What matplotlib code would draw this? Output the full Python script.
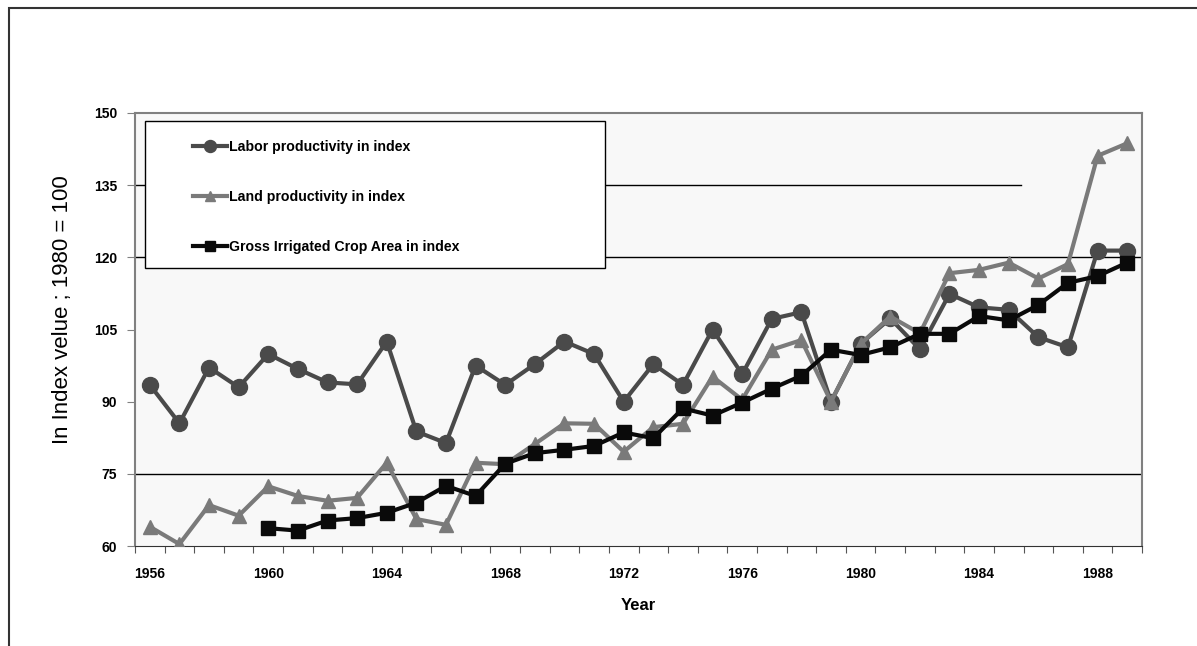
import matplotlib
matplotlib.use('Agg')
import matplotlib.pyplot as plt
from matplotlib.patches import Rectangle
import numpy as np

years = list(range(1956, 1990))

labor = [93.5, 85.5, 97.1, 93.0, 99.9, 96.8, 94.0, 93.6, 102.5, 83.8, 81.4,
         97.5, 93.5, 97.8, 102.5, 99.9, 90.0, 97.8, 93.5, 105.0, 95.7, 107.2,
         108.6, 90.0, 102.0, 107.3, 100.9, 112.4, 109.6, 109.1, 103.4, 101.3,
         121.4, 121.4]

land = [64.0, 60.4, 68.5, 66.3, 72.4, 70.4, 69.4, 70.0, 77.3, 65.6, 64.4,
        77.3, 77.0, 81.2, 85.5, 85.4, 79.6, 84.7, 85.4, 95.2, 90.4, 100.8,
        102.8, 90.0, 102.0, 107.7, 104.2, 116.7, 117.4, 118.9, 115.6, 118.6,
        141.1, 143.7]

# irrigated area series starts in 1960
gross_years = list(range(1960, 1990))
gross = [63.7, 63.2, 65.3, 65.8, 66.9, 69.0, 72.5, 70.4, 77.1, 79.3, 80.0,
         80.8, 83.6, 82.4, 88.6, 87.1, 89.8, 92.7, 95.4, 100.8, 99.7, 101.3,
         104.1, 104.1, 107.8, 106.9, 110.1, 114.7, 116.1, 118.9]

yticks = [60, 75, 90, 105, 120, 135, 150]
xlabels = list(range(1956, 1990, 4))

fig = plt.figure(figsize=(11.97, 6.46), dpi=100)
ax = fig.add_axes([135 / 1197, 1 - 546 / 646, 1007 / 1197, 433 / 646])
ax.set_facecolor('#f8f8f8')

x = np.arange(len(years))
gx = np.array([years.index(y) for y in gross_years])

# gridlines (only some show in the original)
ax.axhline(75, color='black', lw=1, zorder=1)
ax.axhline(120, color='black', lw=1, zorder=1)
ax.axhline(135, xmax=(1021 - 135) / 1007, color='black', lw=1, zorder=1)

ax.plot(x, labor, color='#4a4a4a', lw=3, marker='o', ms=11.5,
        label='Labor productivity in index', zorder=3)
ax.plot(x, land, color='#7a7a7a', lw=3, marker='^', ms=10.5,
        label='Land productivity in index', zorder=4)
ax.plot(gx, gross, color='#0a0a0a', lw=3, marker='s', ms=9.5,
        label='Gross Irrigated Crop Area in index', zorder=5)

ax.set_xlim(-0.5, len(years) - 0.5)
ax.set_ylim(60, 150)
ax.set_yticks(yticks)
ax.set_yticklabels([str(v) for v in yticks], fontsize=10, fontweight='bold',
                   family='Liberation Sans')
ax.tick_params(axis='y', direction='out', length=6, color='#808080', pad=7)

ax.set_xticks([years.index(y) for y in xlabels])
ax.set_xticklabels([str(y) for y in xlabels], fontsize=10, fontweight='bold',
                   family='Liberation Sans')
ax.set_xticks(np.arange(-0.5, len(years), 1), minor=True)
ax.tick_params(axis='x', which='major', length=0, pad=15)
ax.tick_params(axis='x', which='minor', direction='out', length=5,
               color='#555555', width=0.8)

for s in ['left', 'top', 'right']:
    ax.spines[s].set_color('#808080')
    ax.spines[s].set_linewidth(1.5)
ax.spines['bottom'].set_color('#333333')

ax.set_ylabel('In Index velue ; 1980 = 100', fontsize=16,
              family='Liberation Sans')
ax.yaxis.set_label_coords(-0.062, 0.545)
ax.set_xlabel('Year', fontsize=12, fontweight='bold',
              family='Liberation Sans', labelpad=12)

# legend box
ax.add_patch(Rectangle((10 / 1007, 117.8), 460 / 1007, 148.3 - 117.8,
                       transform=ax.get_yaxis_transform(), facecolor='white',
                       edgecolor='black', lw=1, zorder=6))
leg = ax.legend(loc='upper left', bbox_to_anchor=(58 / 1007, 1 - 27 / 433),
                frameon=False, prop={'family': 'Liberation Sans',
                                     'weight': 'bold', 'size': 10.2},
                labelspacing=2.55, handlelength=2.4, handletextpad=0.15,
                markerscale=0.75, borderpad=0, borderaxespad=0)
leg.set_zorder(7)

# outer frame of the page
fig.add_artist(Rectangle((9 / 1197, -0.1), 2, 1.1 - 8 / 646,
                         transform=fig.transFigure, fill=False,
                         edgecolor='#333333', lw=1.5))

plt.savefig('out.png', dpi=100)
